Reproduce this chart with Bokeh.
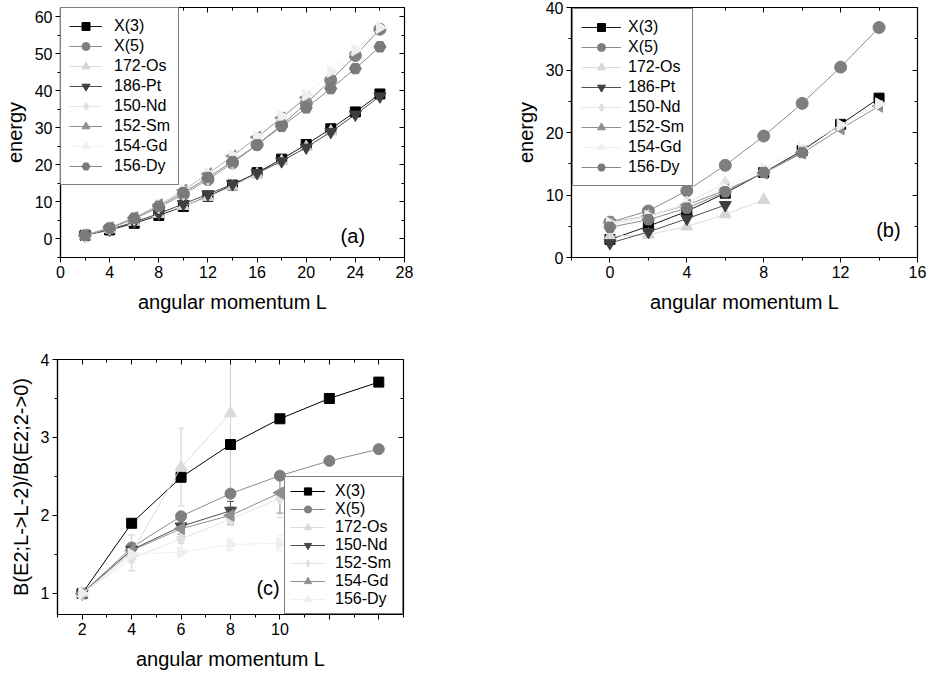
import math
from bokeh.plotting import figure
from bokeh.models import Range1d, LinearAxis, SingleIntervalTicker, Label, CustomJSTickFormatter
from bokeh.layouts import column, row
from bokeh.embed import file_html
from bokeh.resources import INLINE

FONT = "Liberation Sans"

# ---------------- Panel (a): ground-band energies E(L)/E(2)
a_L_x3 = [2, 4, 6, 8, 10, 12, 14, 16, 18, 20, 22, 24, 26]
a_E_x3 = [1.00, 2.44, 4.23, 6.35, 8.78, 11.52, 14.57, 17.91, 21.56, 25.51, 29.76, 34.31, 39.16]
a_L_x5 = [2, 4, 6, 8, 10, 12, 14, 16, 18, 20, 22, 24, 26]
a_E_x5 = [1.00, 2.90, 5.43, 8.48, 12.03, 16.04, 20.51, 25.44, 30.80, 36.61, 42.85, 49.53, 56.63]
a_L_os172 = [2, 4, 6, 8, 10, 12, 14, 16, 18, 20, 22]
a_E_os172 = [1.00, 2.66, 4.63, 6.72, 8.90, 11.30, 14.20, 17.50, 21.00, 24.80, 29.00]
a_L_pt186 = [2, 4, 6, 8, 10, 12, 14, 16, 18, 20, 22, 24, 26]
a_E_pt186 = [1.00, 2.56, 4.55, 6.87, 9.47, 12.10, 14.80, 17.80, 21.00, 24.70, 28.90, 33.60, 38.50]
a_L_nd150 = [2, 4, 6, 8, 10, 12, 14]
a_E_nd150 = [1.00, 2.93, 5.53, 8.68, 12.28, 16.30, 20.70]
a_L_sm152 = [2, 4, 6, 8, 10, 12, 14, 16, 18, 20]
a_E_sm152 = [1.00, 3.01, 5.80, 9.24, 13.20, 17.60, 22.40, 27.50, 32.70, 38.20]
a_L_gd154 = [2, 4, 6, 8, 10, 12, 14, 16, 18, 20, 22, 24, 26]
a_E_gd154 = [1.00, 3.02, 5.83, 9.30, 13.30, 17.75, 22.60, 27.70, 33.10, 38.90, 45.20, 51.00, 57.10]
a_L_dy156 = [2, 4, 6, 8, 10, 12, 14, 16, 18, 20, 22, 24, 26]
a_E_dy156 = [1.00, 2.93, 5.59, 8.82, 12.50, 16.60, 20.90, 25.40, 30.40, 35.40, 40.60, 46.00, 51.90]

# ---------------- Panel (b): excited (s=2) band energies
b_L_x3 = [0, 2, 4, 6, 8, 10, 12, 14]
b_E_x3 = [2.87, 5.00, 7.40, 10.30, 13.60, 17.10, 21.30, 25.50]
b_L_x5 = [0, 2, 4, 6, 8, 10, 12, 14]
b_E_x5 = [5.65, 7.45, 10.69, 14.75, 19.43, 24.66, 30.46, 36.80]
b_L_os172 = [0, 2, 4, 6, 8]
b_E_os172 = [3.40, 3.65, 4.95, 6.90, 9.20]
b_L_pt186 = [0, 2, 4, 6]
b_E_pt186 = [2.30, 4.10, 6.20, 8.40]
b_L_nd150 = [0, 2, 4, 6]
b_E_nd150 = [5.19, 6.54, 8.74, 11.85]
b_L_sm152 = [0, 2, 4, 6, 8, 10, 12, 14]
b_E_sm152 = [5.62, 6.65, 8.40, 10.76, 13.50, 16.70, 20.60, 24.20]
b_L_gd154 = [0, 2, 4, 6, 8, 10, 12, 14]
b_E_gd154 = [5.53, 6.62, 8.51, 11.10, 14.30, 17.50, 21.20, 24.60]
b_L_dy156 = [0, 2, 4, 6, 8, 10]
b_E_dy156 = [4.84, 6.05, 7.90, 10.50, 13.60, 16.80]

# ---------------- Panel (c): B(E2; L->L-2)/B(E2; 2->0)
c_L_x3 = [2, 4, 6, 8, 10, 12, 14]
c_B_x3 = [1.00, 1.90, 2.49, 2.91, 3.24, 3.50, 3.71]
c_L_x5 = [2, 4, 6, 8, 10, 12, 14]
c_B_x5 = [1.00, 1.59, 1.99, 2.28, 2.51, 2.70, 2.85]
c_L_os172 = [2, 4, 6, 8]
c_B_os172 = [1.00, 1.52, 2.62, 3.31]
c_err_os172 = [0.00, 0.23, 0.50, 1.30]
c_L_nd150 = [2, 4, 6, 8]
c_B_nd150 = [1.00, 1.56, 1.86, 2.06]
c_err_nd150 = [0.00, 0.04, 0.10, 0.12]
c_L_sm152 = [2, 4, 6, 8, 10]
c_B_sm152 = [1.00, 1.45, 1.70, 1.95, 2.22]
c_err_sm152 = [0.00, 0.05, 0.06, 0.08, 0.25]
c_L_gd154 = [2, 4, 6, 8, 10]
c_B_gd154 = [1.00, 1.55, 1.83, 2.00, 2.29]
c_err_gd154 = [0.00, 0.05, 0.10, 0.11, 0.26]
c_L_dy156 = [2, 4, 6, 8, 10]
c_B_dy156 = [1.00, 1.50, 1.53, 1.63, 1.64]
c_err_dy156 = [0.00, 0.10, 0.06, 0.08, 0.10]
# x tick labels of panel (c) that are covered by its legend in the original
c_hidden_ticks = [12, 14]

PI = math.pi
# name -> (marker, marker colour, line colour, angle, size)
STY_AB = {
    "X(3)": ("square", "#000000", "#1a1a1a", 0, 10),
    "X(5)": ("circle", "#7f7f7f", "#8c8c8c", 0, 12),
    "172-Os": ("triangle", "#d6d6d6", "#dcdcdc", 0, 12),
    "186-Pt": ("inverted_triangle", "#3f3f3f", "#505050", 0, 12),
    "150-Nd": ("diamond", "#e0e0e0", "#e6e6e6", 0, 14),
    "152-Sm": ("triangle", "#8f8f8f", "#8f8f8f", PI / 2, 12),
    "154-Gd": ("triangle", "#f0f0f0", "#f0f0f0", -PI / 2, 12),
    "156-Dy": ("hex", "#7a7a7a", "#8a8a8a", 0, 12),
}
STY_C = {
    "X(3)": ("square", "#000000", "#000000", 0, 10),
    "X(5)": ("circle", "#7f7f7f", "#8c8c8c", 0, 11),
    "172-Os": ("triangle", "#d9d9d9", "#dcdcdc", 0, 12),
    "150-Nd": ("inverted_triangle", "#474747", "#505050", 0, 12),
    "152-Sm": ("diamond", "#e0e0e0", "#e4e4e4", 0, 13),
    "154-Gd": ("triangle", "#8f8f8f", "#8f8f8f", PI / 2, 12),
    "156-Dy": ("triangle", "#efefef", "#efefef", -PI / 2, 12),
}


def blank_axis(interval):
    ax = LinearAxis(ticker=SingleIntervalTicker(interval=interval, num_minor_ticks=2),
                    formatter=CustomJSTickFormatter(code="return ''"),
                    major_label_text_font_size="0px", major_label_standoff=0,
                    major_tick_in=5, major_tick_out=0, minor_tick_in=3, minor_tick_out=0,
                    axis_line_color=None, major_tick_line_color="black", minor_tick_line_color="black")
    return ax


def make_fig(xr, yr, xint, yint, width, height, mbl, mbr, mbt, mbb, ylabel, xformatter=None):
    p = figure(width=width, height=height, x_range=Range1d(*xr), y_range=Range1d(*yr),
               output_backend="svg", toolbar_location=None,
               x_axis_label="angular momentum L", y_axis_label=ylabel,
               min_border_left=mbl, min_border_right=mbr, min_border_top=mbt, min_border_bottom=mbb)
    p.grid.visible = False
    p.background_fill_color = "white"
    p.border_fill_color = "white"
    p.outline_line_color = "black"
    p.outline_line_width = 1.2
    xax = p.below[0]
    yax = p.left[0]
    xax.ticker = SingleIntervalTicker(interval=xint, num_minor_ticks=2)
    yax.ticker = SingleIntervalTicker(interval=yint, num_minor_ticks=2)
    if xformatter is not None:
        xax.formatter = xformatter
    for ax in (xax, yax):
        ax.axis_line_color = "black"
        ax.axis_line_width = 1.2
        ax.major_tick_out = 5
        ax.major_tick_in = 0
        ax.minor_tick_out = 3
        ax.minor_tick_in = 0
        ax.major_tick_line_color = "black"
        ax.minor_tick_line_color = "black"
        ax.major_label_text_font = FONT
        ax.major_label_text_font_size = "16px"
        ax.major_label_text_color = "black"
        ax.major_label_standoff = 3
        ax.axis_label_text_font = FONT
        ax.axis_label_text_font_size = "20px"
        ax.axis_label_text_font_style = "normal"
        ax.axis_label_text_color = "black"
    xax.axis_label_standoff = 10
    yax.axis_label_standoff = 6
    p.add_layout(blank_axis(xint), "above")
    p.add_layout(blank_axis(yint), "right")
    return p


def add_series(p, xs, ys, name, sty):
    marker, mcol, lcol, ang, size = sty[name]
    p.line(xs, ys, line_color=lcol, line_width=1, legend_label=name)
    p.scatter(xs, ys, marker=marker, size=size, fill_color=mcol, line_color=mcol,
              angle=ang, legend_label=name)


def add_err(p, xs, ys, errs, color):
    xe = [x for x, e in zip(xs, errs) if e > 0]
    lo = [y - e for y, e in zip(ys, errs) if e > 0]
    hi = [y + e for y, e in zip(ys, errs) if e > 0]
    p.segment(x0=xe, y0=lo, x1=xe, y1=hi, line_color=color, line_width=1)
    p.scatter(xe + xe, lo + hi, marker="dash", size=7, line_color=color, line_width=1)


def style_legend(lg, glyph_w, glyph_h, standoff, pad, label_w):
    lg.border_line_color = "black"
    lg.border_line_width = 1.2
    lg.background_fill_color = "white"
    lg.background_fill_alpha = 1.0
    lg.label_text_font = FONT
    lg.label_text_font_size = "16px"
    lg.label_text_color = "black"
    lg.glyph_width = glyph_w
    lg.glyph_height = glyph_h
    lg.label_height = glyph_h
    lg.spacing = 0
    lg.padding = pad
    lg.label_standoff = standoff
    lg.label_width = label_w
    lg.margin = 0


# ---- panel (a)
pa = make_fig((0, 28), (-5, 62.5), 4, 10, 480, 347, 57, 76, 7, 90, "energy")
add_series(pa, a_L_x3, a_E_x3, "X(3)", STY_AB)
add_series(pa, a_L_x5, a_E_x5, "X(5)", STY_AB)
add_series(pa, a_L_os172, a_E_os172, "172-Os", STY_AB)
add_series(pa, a_L_pt186, a_E_pt186, "186-Pt", STY_AB)
add_series(pa, a_L_nd150, a_E_nd150, "150-Nd", STY_AB)
add_series(pa, a_L_sm152, a_E_sm152, "152-Sm", STY_AB)
add_series(pa, a_L_gd154, a_E_gd154, "154-Gd", STY_AB)
add_series(pa, a_L_dy156, a_E_dy156, "156-Dy", STY_AB)
style_legend(pa.legend[0], 33, 20, 12, 8, 56)
pa.legend.location = "top_left"
pa.add_layout(Label(x=22.8, y=-2.2, text="(a)", text_font=FONT, text_font_size="20px",
                    text_color="black", text_baseline="bottom"))

# ---- panel (b)
pb = make_fig((-2, 16), (0, 40), 4, 10, 450, 347, 91, 13, 7, 90, "energy")
add_series(pb, b_L_x3, b_E_x3, "X(3)", STY_AB)
add_series(pb, b_L_x5, b_E_x5, "X(5)", STY_AB)
add_series(pb, b_L_os172, b_E_os172, "172-Os", STY_AB)
add_series(pb, b_L_pt186, b_E_pt186, "186-Pt", STY_AB)
add_series(pb, b_L_nd150, b_E_nd150, "150-Nd", STY_AB)
add_series(pb, b_L_sm152, b_E_sm152, "152-Sm", STY_AB)
add_series(pb, b_L_gd154, b_E_gd154, "154-Gd", STY_AB)
add_series(pb, b_L_dy156, b_E_dy156, "156-Dy", STY_AB)
style_legend(pb.legend[0], 40, 20, 7, 8, 56)
pb.legend.location = "top_left"
pb.legend.margin = 1
pb.add_layout(Label(x=13.85, y=2.6, text="(b)", text_font=FONT, text_font_size="20px",
                    text_color="black", text_baseline="bottom"))

# ---- panel (c)
c_fmt = CustomJSTickFormatter(args=dict(hidden=c_hidden_ticks),
                              code="return hidden.includes(tick) ? '' : tick.toString()")
pc = make_fig((1, 15), (0.73, 4), 2, 1, 420, 327, 57, 17, 12, 60,
              "B(E2;L->L-2)/B(E2;2->0)", xformatter=c_fmt)
add_err(pc, c_L_os172, c_B_os172, c_err_os172, "#d0d0d0")
add_err(pc, c_L_nd150, c_B_nd150, c_err_nd150, "#505050")
add_err(pc, c_L_sm152, c_B_sm152, c_err_sm152, "#dadada")
add_err(pc, c_L_gd154, c_B_gd154, c_err_gd154, "#8f8f8f")
add_err(pc, c_L_dy156, c_B_dy156, c_err_dy156, "#ececec")
add_series(pc, c_L_x3, c_B_x3, "X(3)", STY_C)
add_series(pc, c_L_x5, c_B_x5, "X(5)", STY_C)
add_series(pc, c_L_os172, c_B_os172, "172-Os", STY_C)
add_series(pc, c_L_nd150, c_B_nd150, "150-Nd", STY_C)
add_series(pc, c_L_sm152, c_B_sm152, "152-Sm", STY_C)
add_series(pc, c_L_gd154, c_B_gd154, "154-Gd", STY_C)
add_series(pc, c_L_dy156, c_B_dy156, "156-Dy", STY_C)
style_legend(pc.legend[0], 35, 18, 10, 5, 62)
pc.legend.location = "bottom_right"
pc.add_layout(Label(x=9.05, y=0.93, text="(c)", text_font=FONT, text_font_size="20px",
                    text_color="black", text_baseline="bottom"))

layout = column(row(pa, pb), pc)
open("out.html", "w").write(file_html(layout, INLINE))
